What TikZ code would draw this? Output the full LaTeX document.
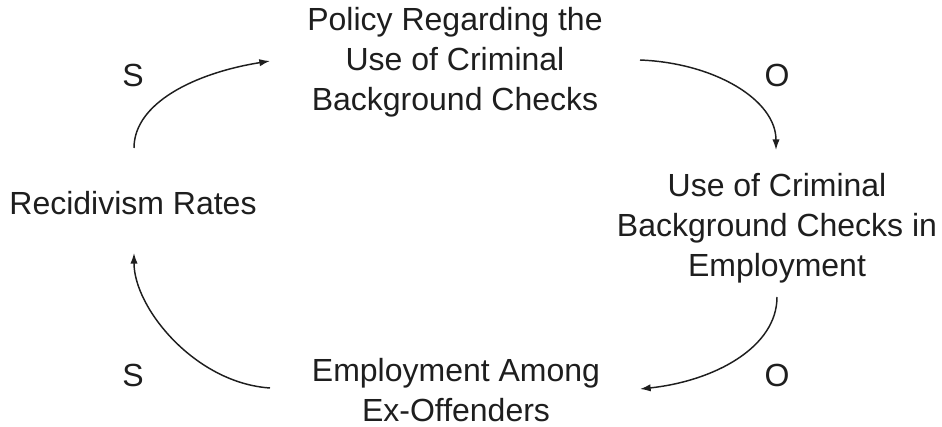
\documentclass[tikz,border=0pt]{standalone}
\usepackage{fontspec}
\setmainfont{Liberation Sans}
\usetikzlibrary{arrows.meta,calc}
\definecolor{ink}{RGB}{30,30,30}
\tikzset{
  loopnode/.style={inner sep=0pt,align=center,text=ink,font=\fontsize{24}{30}\selectfont},
  sign/.style={inner sep=0pt,text=ink,font=\fontsize{24}{30}\selectfont},
  link/.style={draw=ink,line width=1.1pt,-{Latex[length=8pt,width=5.5pt]}}
}

\begin{document}
\begin{tikzpicture}[x=0.75pt,y=-0.75pt]
  \useasboundingbox (0,0) rectangle (942,427);
  % the four stages of the loop
  \node[loopnode] (pol) at (455,62) {Policy Regarding the\\Use of Criminal\\Background Checks};
  \node[loopnode] (use) at (777,228) {Use of Criminal\\Background Checks in\\Employment};
  \node[loopnode] (emp) at (456,390) {Employment Among\\Ex-Offenders};
  \node[loopnode] (rec) at (133,203) {Recidivism Rates};
  % polarity marks
  \node[sign] (s1) at (133,75) {S};
  \node[sign] (o1) at (777,75) {O};
  \node[sign] (o2) at (777,375) {O};
  \node[sign] (s2) at (133,375) {S};
  % links
  \draw[link] ($(rec)+(1,-55)$) .. controls +(0,-45) and +(-75,12) .. ($(pol)+(-185,-1)$);
  \draw[link] ($(pol)+(185,-2)$) .. controls +(75,3) and +(0,-50) .. ($(use)+(-1,-78)$);
  \draw[link] ($(use)+(0,69)$) .. controls +(0,50) and +(75,-8) .. ($(emp)+(184,-1)$);
  \draw[link] ($(emp)+(-186,-2)$) .. controls +(-75,-5) and +(0,55) .. ($(rec)+(1,50)$);
\end{tikzpicture}
\end{document}
